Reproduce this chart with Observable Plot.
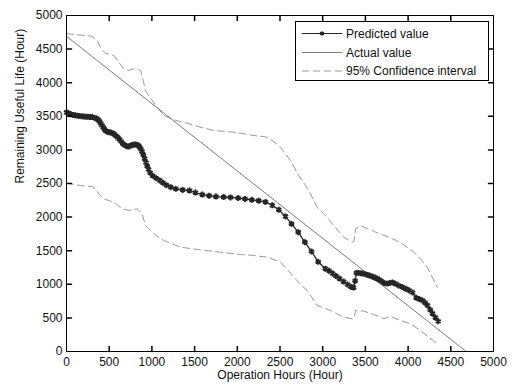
<!DOCTYPE html>
<html>
<head>
<meta charset="utf-8">
<script src="https://cdn.jsdelivr.net/npm/d3@7"></script>
<script src="https://cdn.jsdelivr.net/npm/@observablehq/plot@0.6"></script>
<style>
  html, body { margin: 0; padding: 0; background: #fff; }
  #wrap { position: relative; width: 512px; height: 385px; font-family: "Liberation Sans", Arial, sans-serif; }
  #legend { position: absolute; left: 295px; top: 21px; }
</style>
</head>
<body>
<div id="wrap"></div>
<script>
// ---- data ----
const xTicks = [0, 500, 1000, 1500, 2000, 2500, 3000, 3500, 4000, 4500, 5000];
const yTicks = [0, 500, 1000, 1500, 2000, 2500, 3000, 3500, 4000, 4500, 5000];
const xLabel = "Operation Hours (Hour)";
const yLabel = "Remaining Useful Life (Hour)";
const seriesNames = ["Predicted value", "Actual value", "95% Confidence interval"];

const predHours = [0,25,50,75,100,125,150,175,200,225,250,275,300,325,350,370,385,400,415,430,445,460,480,500,520,540,560,580,600,620,640,660,680,700,720,740,760,780,800,820,840,855,870,885,900,915,930,945,960,980,1010,1050,1090,1130,1170,1220,1280,1360,1440,1510,1590,1670,1750,1840,1920,2010,2090,2170,2250,2330,2410,2486,2564,2635,2713,2791,2869,2947,3030,3075,3115,3155,3197,3245,3290,3330,3361,3380,3396,3420,3445,3470,3500,3525,3550,3583,3610,3635,3660,3690,3720,3750,3785,3817,3850,3888,3930,3970,4010,4052,4095,4130,4169,4200,4227,4260,4286,4320,4352];
const predValues = [3560,3545,3530,3520,3515,3510,3505,3500,3498,3495,3493,3490,3488,3480,3468,3450,3425,3395,3365,3335,3305,3285,3268,3262,3258,3248,3232,3210,3185,3155,3125,3095,3072,3058,3050,3055,3068,3078,3082,3078,3068,3045,3015,2975,2925,2870,2815,2760,2710,2660,2615,2580,2545,2510,2475,2445,2420,2405,2395,2365,2335,2318,2305,2298,2292,2283,2270,2258,2245,2225,2175,2110,2010,1900,1775,1627,1488,1335,1232,1200,1161,1125,1086,1040,997,965,952,1050,1170,1168,1165,1160,1150,1140,1130,1115,1100,1085,1070,1045,1020,1010,1020,1027,1010,982,960,935,910,878,800,780,759,725,685,620,565,505,450];

const actualHours = [0, 4680];
const actualValues = [4690, 0];

const upperHours = [0,47,150,250,301,359,398,430,457,510,554,612,671,700,730,770,808,840,867,898,925,975,1060,1139,1250,1413,1560,1725,1959,2194,2330,2408,2486,2560,2623,2720,2837,2935,3033,3130,3247,3300,3345,3365,3384,3443,3501,3580,3618,3700,3774,3850,3930,4000,4067,4145,4224,4282,4341];
const upperValues = [4730,4725,4710,4700,4688,4628,4528,4470,4439,4420,4405,4305,4206,4185,4182,4200,4206,4195,4182,4033,3884,3784,3640,3512,3450,3397,3340,3289,3264,3214,3195,3140,3065,2950,2842,2619,2396,2147,2024,1875,1701,1660,1627,1640,1826,1875,1840,1801,1775,1740,1701,1660,1602,1540,1478,1379,1255,1106,957];

const lowerHours = [0,164,301,340,378,437,554,652,730,828,886,925,1003,1101,1218,1335,1569,1803,2037,2194,2350,2506,2580,2662,2740,2818,2935,3091,3247,3345,3370,3384,3482,3599,3716,3794,3911,4028,4145,4243,4341];
const lowerValues = [2505,2470,2455,2420,2346,2272,2222,2123,2098,2123,2048,1875,1775,1676,1610,1552,1513,1478,1443,1429,1403,1329,1230,1106,1000,908,685,610,510,487,500,610,600,551,487,521,461,412,312,213,114];

// ---- tables built from the arrays ----
const pred = predHours.map((h, i) => ({h, v: predValues[i]}));
const actual = actualHours.map((h, i) => ({h, v: actualValues[i]}));
const upper = upperHours.map((h, i) => ({h, v: upperValues[i]}));
const lower = lowerHours.map((h, i) => ({h, v: lowerValues[i]}));

const FONT = '"Liberation Sans", Arial, sans-serif';
const tickShape = {draw(ctx, l) { ctx.moveTo(0, 0); ctx.lineTo(0, -l); }};
const innerX = xTicks.slice(1, -1);
const innerY = yTicks.slice(1, -1);
const fmt = d => String(d);

const chart = Plot.plot({
  width: 512,
  height: 385,
  marginLeft: 66,
  marginRight: 19,
  marginTop: 15,
  marginBottom: 34,
  style: {fontFamily: FONT, fontSize: "12px", color: "#111", background: "#fff", overflow: "visible"},
  x: {domain: [0, 5000]},
  y: {domain: [0, 5000]},
  marks: [
    Plot.axisX(xTicks, {tickSize: 0, tickPadding: 6, label: null, fontSize: 12, tickFormat: fmt}),
    Plot.axisY(yTicks, {tickSize: 0, tickPadding: 4, label: null, fontSize: 12, tickFormat: fmt}),
    Plot.line(upper, {x: "h", y: "v", stroke: "#9a9a9a", strokeWidth: 1, strokeDasharray: "7,4"}),
    Plot.line(lower, {x: "h", y: "v", stroke: "#9a9a9a", strokeWidth: 1, strokeDasharray: "7,4"}),
    Plot.line(actual, {x: "h", y: "v", stroke: "#7a7a7a", strokeWidth: 1}),
    Plot.line(pred, {x: "h", y: "v", stroke: "#262626", strokeWidth: 1.3}),
    Plot.dot(pred, {x: "h", y: "v", symbol: "asterisk", r: 2.8, stroke: "#262626", strokeWidth: 2}),
    Plot.frame({stroke: "#000", strokeWidth: 1}),
    Plot.vectorX(innerX, {x: d => d, frameAnchor: "bottom", rotate: 0, length: 5, anchor: "start", shape: tickShape, stroke: "#000"}),
    Plot.vectorX(innerX, {x: d => d, frameAnchor: "top", rotate: 180, length: 5, anchor: "start", shape: tickShape, stroke: "#000"}),
    Plot.vectorY(innerY, {y: d => d, frameAnchor: "left", rotate: 90, length: 5, anchor: "start", shape: tickShape, stroke: "#000"}),
    Plot.vectorY(innerY, {y: d => d, frameAnchor: "right", rotate: -90, length: 5, anchor: "start", shape: tickShape, stroke: "#000"}),
    Plot.text([xLabel], {frameAnchor: "bottom", dy: 27, fontSize: 12, fill: "#111"}),
    Plot.text([yLabel], {frameAnchor: "left", dx: -46, rotate: -90, fontSize: 12, fill: "#111"})
  ]
});

const wrap = document.getElementById("wrap");
wrap.appendChild(chart);

// ---- legend (overlay in the upper right of the axes) ----
const lw = 194, lh = 60;
const leg = d3.create("svg").attr("id", "legend").attr("width", lw).attr("height", lh)
  .style("font-family", FONT).style("font-size", "12px");
leg.append("rect").attr("x", 0.5).attr("y", 0.5).attr("width", lw - 1).attr("height", lh - 1)
  .attr("fill", "#fff").attr("stroke", "#000");
const rows = [12.5, 31.5, 50];
const styles = [
  {stroke: "#262626", dash: null, marker: true},
  {stroke: "#7a7a7a", dash: null, marker: false},
  {stroke: "#9a9a9a", dash: "7,4", marker: false}
];
seriesNames.forEach((name, i) => {
  const y = rows[i];
  const s = styles[i];
  const ln = leg.append("line").attr("x1", 7).attr("x2", 47).attr("y1", y).attr("y2", y)
    .attr("stroke", s.stroke).attr("stroke-width", 1);
  if (s.dash) ln.attr("stroke-dasharray", s.dash);
  if (s.marker) {
    leg.append("path").attr("d", d3.symbol(d3.symbolAsterisk, 14)())
      .attr("transform", `translate(27,${y})`).attr("fill", "none").attr("stroke", s.stroke).attr("stroke-width", 1.3);
  }
  leg.append("text").attr("x", 51).attr("y", y).attr("dy", "0.35em").attr("fill", "#111").text(name);
});
wrap.appendChild(leg.node());
</script>
</body>
</html>
